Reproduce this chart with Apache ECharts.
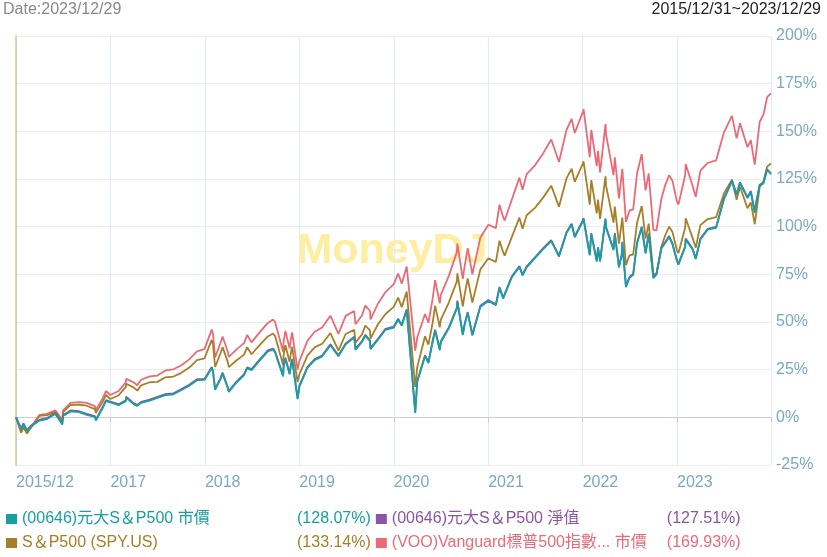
<!DOCTYPE html>
<html><head><meta charset="utf-8">
<script src="https://cdn.jsdelivr.net/npm/echarts@6/dist/echarts.min.js"></script>
<style>html,body{margin:0;padding:0;background:#fff}#c{width:827px;height:557px}</style>
</head><body><div id="c"></div>
<script>
const dates = [
'2015-12-31','2016-01-20','2016-01-29','2016-02-11','2016-02-29','2016-03-31','2016-04-29','2016-05-31','2016-06-27','2016-06-30','2016-07-29','2016-08-31','2016-09-30','2016-10-31','2016-11-04','2016-11-30','2016-12-13','2016-12-30',
'2017-01-31','2017-02-28','2017-03-01','2017-03-31','2017-04-13','2017-04-28','2017-05-31','2017-06-30','2017-07-31','2017-08-31','2017-09-29','2017-10-31','2017-11-30','2017-12-29',
'2018-01-26','2018-01-31','2018-02-08','2018-02-28','2018-03-09','2018-03-29','2018-04-02','2018-04-30','2018-05-31','2018-06-12','2018-06-29','2018-07-31','2018-08-31','2018-09-20','2018-09-28','2018-10-29','2018-10-31','2018-11-07','2018-11-23','2018-11-30','2018-12-03','2018-12-24','2018-12-31',
'2019-01-31','2019-02-28','2019-03-29','2019-04-30','2019-05-31','2019-06-28','2019-07-31','2019-08-05','2019-08-30','2019-09-12','2019-09-30','2019-10-02','2019-10-31','2019-11-29','2019-12-31',
'2020-01-17','2020-01-31','2020-02-19','2020-03-23','2020-03-31','2020-04-30','2020-05-13','2020-05-29','2020-06-08','2020-06-26','2020-06-30','2020-07-31','2020-08-31','2020-09-02','2020-09-23','2020-09-30','2020-10-12','2020-10-30','2020-11-30','2020-12-31',
'2021-01-29','2021-02-12','2021-02-26','2021-03-04','2021-03-31','2021-04-30','2021-05-12','2021-05-28','2021-06-30','2021-07-30','2021-08-31','2021-09-02','2021-09-30','2021-10-29','2021-11-18','2021-11-30','2021-12-31',
'2022-01-03','2022-01-27','2022-01-31','2022-02-02','2022-02-23','2022-02-28','2022-03-08','2022-03-29','2022-03-31','2022-04-29','2022-05-04','2022-05-20','2022-05-31','2022-06-02','2022-06-16','2022-06-30','2022-07-14','2022-07-29','2022-08-16','2022-08-31','2022-09-12','2022-09-30','2022-10-12','2022-10-31','2022-11-15','2022-11-30','2022-12-13','2022-12-30',
'2023-01-05','2023-01-31','2023-02-02','2023-02-28','2023-03-13','2023-03-31','2023-04-28','2023-05-31','2023-06-30','2023-07-31','2023-08-18','2023-08-31','2023-09-29','2023-10-12','2023-10-27','2023-10-31','2023-11-15','2023-11-30','2023-12-14','2023-12-29'
];
const teal = [
0,-6.3,-3.7,-7.2,-4.6,-1.7,-0.9,1.7,-3.8,0.7,3.1,2.7,1.3,0.2,-1.7,4.9,8.5,7.8,
6.4,8.5,10.4,6.8,6.0,7.6,8.8,10.2,11.7,12.1,14.2,16.6,19.5,19.6,
25.9,23.8,14.4,19.8,23.0,15.3,13.3,18.0,22.1,25.7,24.8,29.9,34.6,35.6,34.0,21.4,26.4,30.8,22.6,28.4,30.1,9.6,16.1,
25.9,30.0,31.9,37.8,32.0,38.3,41.8,35.4,39.5,42.8,39.9,35.8,40.7,45.9,47.1,
51.2,48.0,56.2,2.3,18.7,32.1,28.4,39.4,45.5,35.2,39.4,46.7,57.0,60.7,43.1,48.5,54.7,42.9,58.0,61.0,
58.8,67.9,62.2,62.4,73.3,78.8,74.4,78.7,83.6,88.1,92.4,92.4,84.3,96.6,101.1,94.4,102.8,
104.0,84.9,92.9,96.1,81.7,88.7,81.7,103.8,99.4,87.7,96.1,78.6,85.1,91.6,68.3,73.2,74.7,91.2,99.5,85.9,95.9,73.0,75.0,88.5,91.4,94.6,90.7,82.0,
80.0,89.2,93.3,88.2,83.0,93.3,98.4,99.4,114.4,123.7,116.7,122.9,115.0,118.2,107.3,111.1,121.5,122.7,129.7,128.07
];
const purple = [
0,-5.8,-3.2,-6.7,-4.1,-1.2,-0.4,2.2,-3.3,1.2,3.6,3.2,1.8,0.7,-1.2,5.4,9.0,8.3,
6.9,9.0,10.9,7.3,6.5,8.1,9.3,10.7,12.2,12.6,14.7,17.1,20.0,20.1,
26.4,24.3,14.9,20.3,23.5,15.8,13.8,18.5,22.6,26.2,25.3,30.4,35.1,36.1,34.5,21.9,26.9,31.3,23.1,28.9,30.6,10.1,16.6,
26.4,30.5,32.4,38.3,32.5,38.8,42.3,35.9,40.0,43.3,40.4,36.3,41.2,46.4,47.6,
51.7,48.5,56.7,2.8,19.2,32.6,28.9,39.9,46.0,35.7,39.9,47.2,57.5,61.2,43.6,49.0,55.2,43.4,58.5,61.5,
59.3,68.4,62.7,62.9,73.8,79.3,74.9,79.2,84.1,88.6,92.9,92.9,84.8,97.1,101.6,94.9,103.3,
104.5,85.4,93.4,96.6,82.2,89.2,82.2,104.3,99.9,88.2,96.6,79.1,85.6,92.1,68.8,73.7,75.2,91.7,100.0,86.4,96.4,73.5,75.5,89.0,91.9,95.1,91.2,82.5,
80.5,89.7,93.8,88.7,83.5,93.8,98.9,99.9,114.9,124.2,117.2,123.4,115.5,118.7,107.8,111.6,122.0,123.2,130.2,127.51
];
const gold = [
0,-8.0,-5.0,-8.5,-5.1,0.8,1.2,2.9,-2.1,2.7,6.5,6.6,6.1,4.3,2.3,8.1,11.7,9.6,
11.6,16.0,17.6,15.6,14.0,16.8,18.4,18.6,21.0,21.4,23.2,26.1,30.0,30.9,
40.6,38.3,26.4,33.2,36.8,29.1,26.3,29.7,32.9,36.8,33.1,38.0,42.4,44.0,42.6,27.5,32.7,37.8,29.2,35.2,37.0,18.5,22.6,
32.4,36.7,38.6,44.2,35.0,43.7,45.9,39.2,43.5,48.1,45.6,41.3,48.8,54.2,57.9,
62.8,57.8,66.0,16.0,26.4,42.5,38.1,49.3,58.5,47.2,51.3,60.2,71.3,75.5,58.2,64.3,72.9,60.2,77.6,83.4,
81.5,92.6,86.6,84.8,94.4,104.7,98.9,106.0,110.0,115.1,121.5,122.3,110.5,125.3,130.4,123.5,133.0,
134.3,111.5,120.7,124.4,107.0,114.2,104.1,126.4,121.5,102.1,110.5,91.1,102.5,104.7,79.8,85.0,85.4,102.1,110.8,93.8,101.6,75.2,74.9,89.4,95.5,100.0,97.2,87.6,
86.1,99.4,104.4,94.4,89.0,100.8,104.0,105.0,117.4,124.6,114.1,120.9,109.7,112.7,101.4,105.1,120.6,123.9,131.5,133.14
];
const pink = [
0,-7.9,-4.8,-8.3,-4.8,1.3,1.8,3.7,-1.3,3.7,7.6,8.0,7.6,5.9,3.9,9.9,13.8,11.7,
13.8,18.5,20.2,18.3,16.8,19.7,21.5,21.9,24.6,25.2,27.2,30.4,34.6,35.8,
46.0,43.7,31.4,38.7,42.4,34.5,31.7,35.4,38.9,43.2,39.3,44.7,49.5,51.3,50.0,34.4,39.8,45.3,36.2,42.6,44.5,25.0,29.5,
40.1,44.9,47.1,53.3,43.8,53.2,55.8,48.8,53.4,58.6,55.9,51.4,59.6,65.7,69.9,
75.4,70.1,79.1,35.0,42.0,54.2,49.6,61.8,71.9,59.8,64.2,74.2,86.6,91.1,72.6,79.2,88.7,75.0,94.3,101.0,
99.2,111.5,105.1,103.2,114.0,125.7,119.4,127.5,132.3,138.3,145.7,146.7,133.9,150.7,156.5,149.1,160.1,
161.6,136.4,146.7,150.8,131.7,139.8,128.5,153.8,148.4,127.0,136.4,114.8,127.9,130.3,102.5,108.5,109.0,128.0,138.0,119.0,127.9,98.3,98.1,114.7,121.8,127.0,124.0,113.3,
111.6,127.0,132.9,121.7,115.7,129.4,133.4,134.8,149.5,158.1,146.3,154.3,141.7,145.4,132.5,136.8,154.9,158.9,167.9,169.93
];
const xTickLabels = ['2015/12','2017','2018','2019','2020','2021','2022','2023'];
const seriesNames = ['(00646)元大S＆P500 市價','(00646)元大S＆P500 淨值','S＆P500 (SPY.US)','(VOO)Vanguard標普500指數... 市價'];
const seriesPct = ['(128.07%)','(127.51%)','(133.14%)','(169.93%)'];
const colors = ['#16a0a3','#8c55a3','#a87f29','#ea6b78'];

const FONT = "'Liberation Sans', 'Noto Sans CJK TC', sans-serif";
const t0 = Date.UTC(2015, 11, 31);
function dayOf(s) { const p = s.split('-').map(Number); return (Date.UTC(p[0], p[1] - 1, p[2]) - t0) / 86400000; }
const xs = dates.map(dayOf);
const pair = arr => arr.map((v, i) => [xs[i], v]);
const pctOf = {}; seriesNames.forEach((n, i) => pctOf[n] = seriesPct[i]);

const chart = echarts.init(document.getElementById('c'), null, { renderer: 'canvas' });
const legendBase = {
  left: 6, itemWidth: 11, itemHeight: 10, itemGap: 5, icon: 'rect', padding: 0,
  textStyle: { fontSize: 16, fontFamily: FONT, rich: { n: { width: 275, fontSize: 16, fontFamily: FONT }, p: { width: 80, fontSize: 16, fontFamily: FONT } } },
  formatter: name => '{n|' + name + '}{p|' + pctOf[name] + '}',
  selectedMode: false
};
const mkSeries = (idx, arr) => ({
  name: seriesNames[idx], type: 'line', data: pair(arr), showSymbol: false, symbol: 'none',
  lineStyle: { width: 1.8, color: colors[idx] }, itemStyle: { color: colors[idx] }, animation: false
});
chart.setOption({
  animation: false,
  title: [
    { text: 'Date:2023/12/29', left: 3, top: 2, padding: 0, textStyle: { fontSize: 16, fontWeight: 'normal', color: '#888', fontFamily: FONT } },
    { text: '2015/12/31~2023/12/29', right: 6, top: 2, padding: 0, textStyle: { fontSize: 16, fontWeight: 'normal', color: '#222', fontFamily: FONT } }
  ],
  grid: { left: 16, right: 56, top: 36, bottom: 92, containLabel: false },
  legend: [
    Object.assign({}, legendBase, { top: 511, data: [0, 1].map(i => ({ name: seriesNames[i], textStyle: { color: colors[i] } })) }),
    Object.assign({}, legendBase, { top: 535, data: [2, 3].map(i => ({ name: seriesNames[i], textStyle: { color: colors[i] } })) })
  ],
  xAxis: {
    type: 'value', min: 0, max: 2920, interval: 365.25,
    axisLine: { show: true, lineStyle: { color: '#cccccc' } },
    axisTick: { show: true, length: 5, lineStyle: { color: '#cccccc' } },
    splitLine: { show: true, lineStyle: { color: '#ddeef5' } },
    axisLabel: {
      align: 'left', margin: 10, fontSize: 16, color: '#7aaac2', fontFamily: FONT,
      formatter: v => { if (v > 2900) return ''; return xTickLabels[Math.round(v / 365.25)] || ''; }
    }
  },
  yAxis: [
    {
      type: 'value', position: 'right', min: -25, max: 200, interval: 25,
      axisLine: { show: true, lineStyle: { color: '#efc869', width: 1.5 } },
      axisTick: { show: false },
      splitLine: { show: true, lineStyle: { color: '#ececec' } },
      axisLabel: { margin: 5, fontSize: 16, color: '#7aaac2', fontFamily: FONT, formatter: '{value}%' }
    },
    {
      type: 'value', position: 'left', min: -25, max: 200, interval: 25,
      axisLine: { show: true, lineStyle: { color: '#cccccc' } },
      axisTick: { show: false }, splitLine: { show: false }, axisLabel: { show: false }
    }
  ],
  graphic: [
    { type: 'text', x: 392, y: 251, z: 0, silent: true,
      style: { text: 'MoneyDJ', fontSize: 43, fontWeight: 'bold', fontFamily: 'Liberation Sans', fill: '#fdeea2', align: 'center', verticalAlign: 'middle' } }
  ],
  series: [mkSeries(3, pink), mkSeries(2, gold), mkSeries(1, purple), mkSeries(0, teal)]
});
</script>
</body></html>
